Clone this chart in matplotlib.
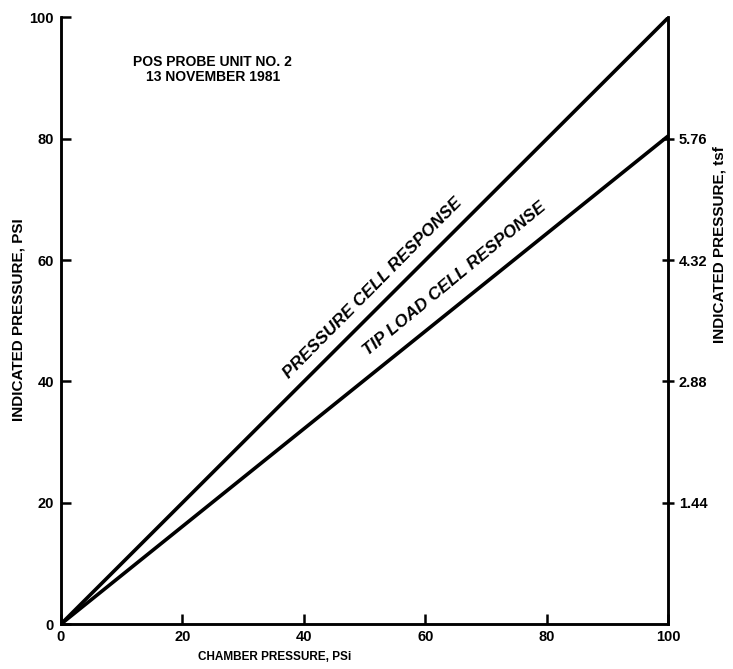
import matplotlib
matplotlib.use("Agg")
import matplotlib.pyplot as plt
import numpy as np

plt.rcParams["font.family"] = ["Liberation Sans", "DejaVu Sans"]
plt.rcParams["font.weight"] = "bold"

# data
chamber = [0, 100]
pressure_cell = [0, 100]
tip_load_cell = [0, 80.5]

x_ticks = [0, 20, 40, 60, 80, 100]
y_ticks = [0, 20, 40, 60, 80, 100]
tsf_ticks = [1.44, 2.88, 4.32, 5.76]

fig = plt.figure(figsize=(7.33, 6.69), dpi=100)
ax = fig.add_axes([0.083, 0.067, 0.829, 0.907])
ax2 = ax.twinx()

ax.plot(chamber, pressure_cell, color="black", lw=2.6, solid_capstyle="butt")
ax.plot(chamber, tip_load_cell, color="black", lw=2.6, solid_capstyle="butt")

ax.set_xlim(0, 100)
ax.set_ylim(0, 100)
ax2.set_ylim(0, 7.2)

ax.set_xticks(x_ticks)
ax.set_yticks(y_ticks)
ax2.set_yticks(tsf_ticks)
ax2.set_yticklabels(["%.2f" % t for t in tsf_ticks])

for a in (ax, ax2):
    a.spines["top"].set_visible(False)
    for s in ("left", "right", "bottom"):
        a.spines[s].set_linewidth(1.8)

ax.tick_params(axis="both", direction="in", length=7, width=1.8,
               labelsize=10.5, pad=5)
ax.tick_params(axis="x", pad=4)
ax2.tick_params(axis="y", direction="inout", length=9, width=1.8,
                labelsize=10.5, pad=3)
for lab in ax.get_xticklabels() + ax.get_yticklabels() + ax2.get_yticklabels():
    lab.set_fontweight("bold")

fig.text(0.375, 0.018, "CHAMBER PRESSURE, PSi", ha="center", va="center",
         fontsize=8.5, fontweight="bold")
fig.text(0.025, 0.522, "INDICATED PRESSURE, PSI", ha="center", va="center",
         rotation=90, fontsize=11, fontweight="bold")
fig.text(0.982, 0.635, "INDICATED PRESSURE, tsf", ha="center", va="center",
         rotation=90, fontsize=11, fontweight="bold")

ax.text(25, 91.4, "POS PROBE UNIT NO. 2\n13 NOVEMBER 1981", ha="center",
        va="center", fontsize=10, fontweight="bold", linespacing=1.05)

ax.text(51.3, 55.4, "PRESSURE CELL RESPONSE", rotation=45.3, ha="center",
        va="center", fontsize=12.5, fontweight="bold", style="italic")
ax.text(64.8, 57.0, "TIP LOAD CELL RESPONSE", rotation=39.5, ha="center",
        va="center", fontsize=12.5, fontweight="bold", style="italic")

fig.savefig("out.png", dpi=100)
